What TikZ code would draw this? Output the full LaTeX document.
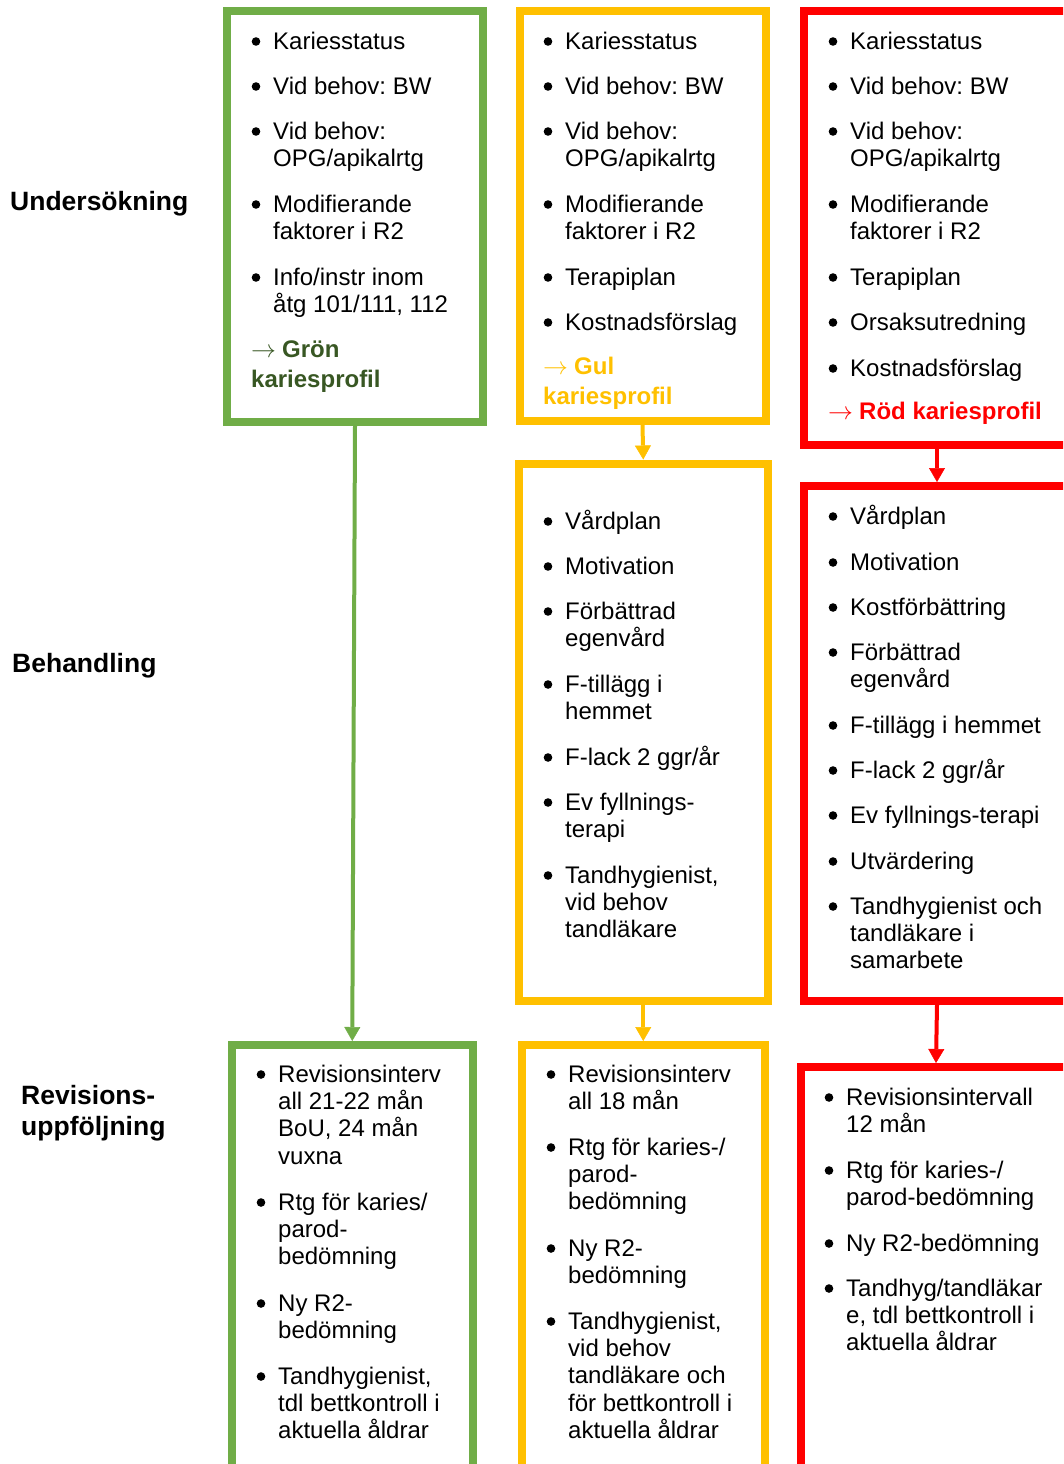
\documentclass[tikz,border=0pt]{standalone}
\usepackage{fontspec}
\setmainfont{Liberation Sans}
\usetikzlibrary{arrows.meta}
\definecolor{cgreen}{HTML}{70AD47}
\definecolor{cyellow}{HTML}{FFC000}
\definecolor{cred}{HTML}{FF0000}
\definecolor{cdkgreen}{HTML}{385723}
\newcommand{\bitem}[4]{%
  \fill (#2,#3-7.5) circle (4.3);
  \foreach \l [count=\i from 0] in {#4} {
    \node[itemtxt] (#1-\i) at (#2+17,#3+27.4*\i) {\l};
  }%
}
\newcommand{\parr}{\makebox[31pt][l]{$\rightarrow$}}
\frenchspacing
\begin{document}
\frenchspacing
\begin{tikzpicture}[x=1pt,y=-1pt,
  box/.style={draw=#1, line width=8pt, rectangle, inner sep=0pt, outer sep=4pt},
  conn/.style={draw=#1, line width=4pt, -{Triangle[width=16pt,length=14pt,line width=0.5pt]}},
  itemtxt/.style={anchor=base west, inner sep=0pt, font=\fontsize{24}{27}\selectfont},
  prof/.style={anchor=base west, inner sep=0pt, text=#1, font=\fontsize{24}{27}\selectfont},
  lab/.style={anchor=base west, inner sep=0pt, font=\fontsize{26.5}{30}\selectfont\bfseries}]
\useasboundingbox (0,0) rectangle (1063,1464);
\clip (0,0) rectangle (1063,1464);

% boxes
\node[box=cgreen, minimum width=256pt, minimum height=411pt] (g1) at (355,216.5) {};
\node[box=cyellow, minimum width=246pt, minimum height=410pt] (y1) at (642.5,216) {};
\node[box=cred, minimum width=266pt, minimum height=434pt] (r1) at (937,228) {};
\node[box=cyellow, minimum width=248.5pt, minimum height=537.5pt] (y2) at (643.25,732.25) {};
\node[box=cred, minimum width=266pt, minimum height=515pt] (r2) at (937,743.5) {};
\node[box=cgreen, minimum width=240.5pt, minimum height=445pt] (g3) at (352.25,1267.5) {};
\node[box=cyellow, minimum width=242.5pt, minimum height=445pt] (y3) at (643.25,1267.5) {};
\node[box=cred, minimum width=270pt, minimum height=423pt] (r3) at (936,1278.5) {};

% connectors
\draw[conn=cgreen] (g1.south) -- (g3.north);
\draw[conn=cyellow] (y1.south) -- (y2.north);
\draw[conn=cyellow] (y2.south) -- (y3.north);
\draw[conn=cred] (r1.south) -- (r2.north);
\draw[conn=cred] (r2.south) -- (r3.north);

% row labels
\node[lab] (lu) at (10,210) {Undersökning};
\node[lab] (lb) at (12,672) {Behandling};
\node[lab] (lr1) at (21,1104) {Revisions-};
\node[lab] (lr2) at (21,1135) {uppföljning};

% green box 1
\bitem{ga}{256}{49}{Kariesstatus}
\bitem{gb}{256}{94}{{Vid behov: BW}}
\bitem{gc}{256}{139}{{Vid behov:},{OPG/apikalrtg}}
\bitem{gd}{256}{212}{{Modifierande},{faktorer i R2}}
\bitem{ge}{256}{285}{{Info/instr inom},{åtg 101/111, 112}}
\node[prof=cdkgreen] (gp1) at (251,357) {\parr\textbf{Grön}};
\node[prof=cdkgreen] (gp2) at (251,387) {\textbf{kariesprofil}};

% yellow box 1
\bitem{ya}{548}{49}{Kariesstatus}
\bitem{yb}{548}{94}{{Vid behov: BW}}
\bitem{yc}{548}{139}{{Vid behov:},{OPG/apikalrtg}}
\bitem{yd}{548}{212}{{Modifierande},{faktorer i R2}}
\bitem{ye}{548}{285}{Terapiplan}
\bitem{yf}{548}{330}{Kostnadsförslag}
\node[prof=cyellow] (yp1) at (543,374) {\parr\textbf{Gul}};
\node[prof=cyellow] (yp2) at (543,404) {\textbf{kariesprofil}};

% red box 1
\bitem{ra}{833}{49}{Kariesstatus}
\bitem{rb}{833}{94}{{Vid behov: BW}}
\bitem{rc}{833}{139}{{Vid behov:},{OPG/apikalrtg}}
\bitem{rd}{833}{212}{{Modifierande},{faktorer i R2}}
\bitem{re}{833}{285}{Terapiplan}
\bitem{rf}{833}{330}{Orsaksutredning}
\bitem{rg}{833}{376}{Kostnadsförslag}
\node[prof=cred] (rp1) at (828,419) {\parr\textbf{Röd kariesprofil}};

% yellow box 2
\bitem{yba}{548}{529}{Vårdplan}
\bitem{ybb}{548}{574}{Motivation}
\bitem{ybc}{548}{619}{{Förbättrad},{egenvård}}
\bitem{ybd}{548}{692}{{F-tillägg i},{hemmet}}
\bitem{ybe}{548}{765}{{F-lack 2 ggr/år}}
\bitem{ybf}{548}{810}{{Ev fyllnings-},{terapi}}
\bitem{ybg}{548}{883}{{Tandhygienist,},{vid behov},{tandläkare}}

% red box 2
\bitem{rba}{833}{524}{Vårdplan}
\bitem{rbb}{833}{570}{Motivation}
\bitem{rbc}{833}{615}{Kostförbättring}
\bitem{rbd}{833}{660}{{Förbättrad},{egenvård}}
\bitem{rbe}{833}{733}{{F-tillägg i hemmet}}
\bitem{rbf}{833}{778}{{F-lack 2 ggr/år}}
\bitem{rbg}{833}{823}{{Ev fyllnings-terapi}}
\bitem{rbh}{833}{869}{Utvärdering}
\bitem{rbi}{833}{914}{{Tandhygienist och},{tandläkare i},{samarbete}}

% green box 3
\bitem{gca}{261}{1082}{{Revisionsinterv},{all 21-22 mån},{BoU, 24 mån},{vuxna}}
\bitem{gcb}{261}{1210}{{Rtg för karies/},{parod-},{bedömning}}
\bitem{gcc}{261}{1311}{{Ny R2-},{bedömning}}
\bitem{gcd}{261}{1384}{{Tandhygienist,},{tdl bettkontroll i},{aktuella åldrar}}

% yellow box 3
\bitem{yca}{551}{1082}{{Revisionsinterv},{all 18 mån}}
\bitem{ycb}{551}{1155}{{Rtg för karies-/},{parod-},{bedömning}}
\bitem{ycc}{551}{1256}{{Ny R2-},{bedömning}}
\bitem{ycd}{551}{1329}{{Tandhygienist,},{vid behov},{tandläkare och},{för bettkontroll i},{aktuella åldrar}}

% red box 3
\bitem{rca}{829}{1105}{{Revisionsintervall},{12 mån}}
\bitem{rcb}{829}{1178}{{Rtg för karies-/},{parod-bedömning}}
\bitem{rcc}{829}{1251}{{Ny R2-bedömning}}
\bitem{rcd}{829}{1296}{{Tandhyg/tandläkar},{e, tdl bettkontroll i},{aktuella åldrar}}
\end{tikzpicture}
\end{document}
